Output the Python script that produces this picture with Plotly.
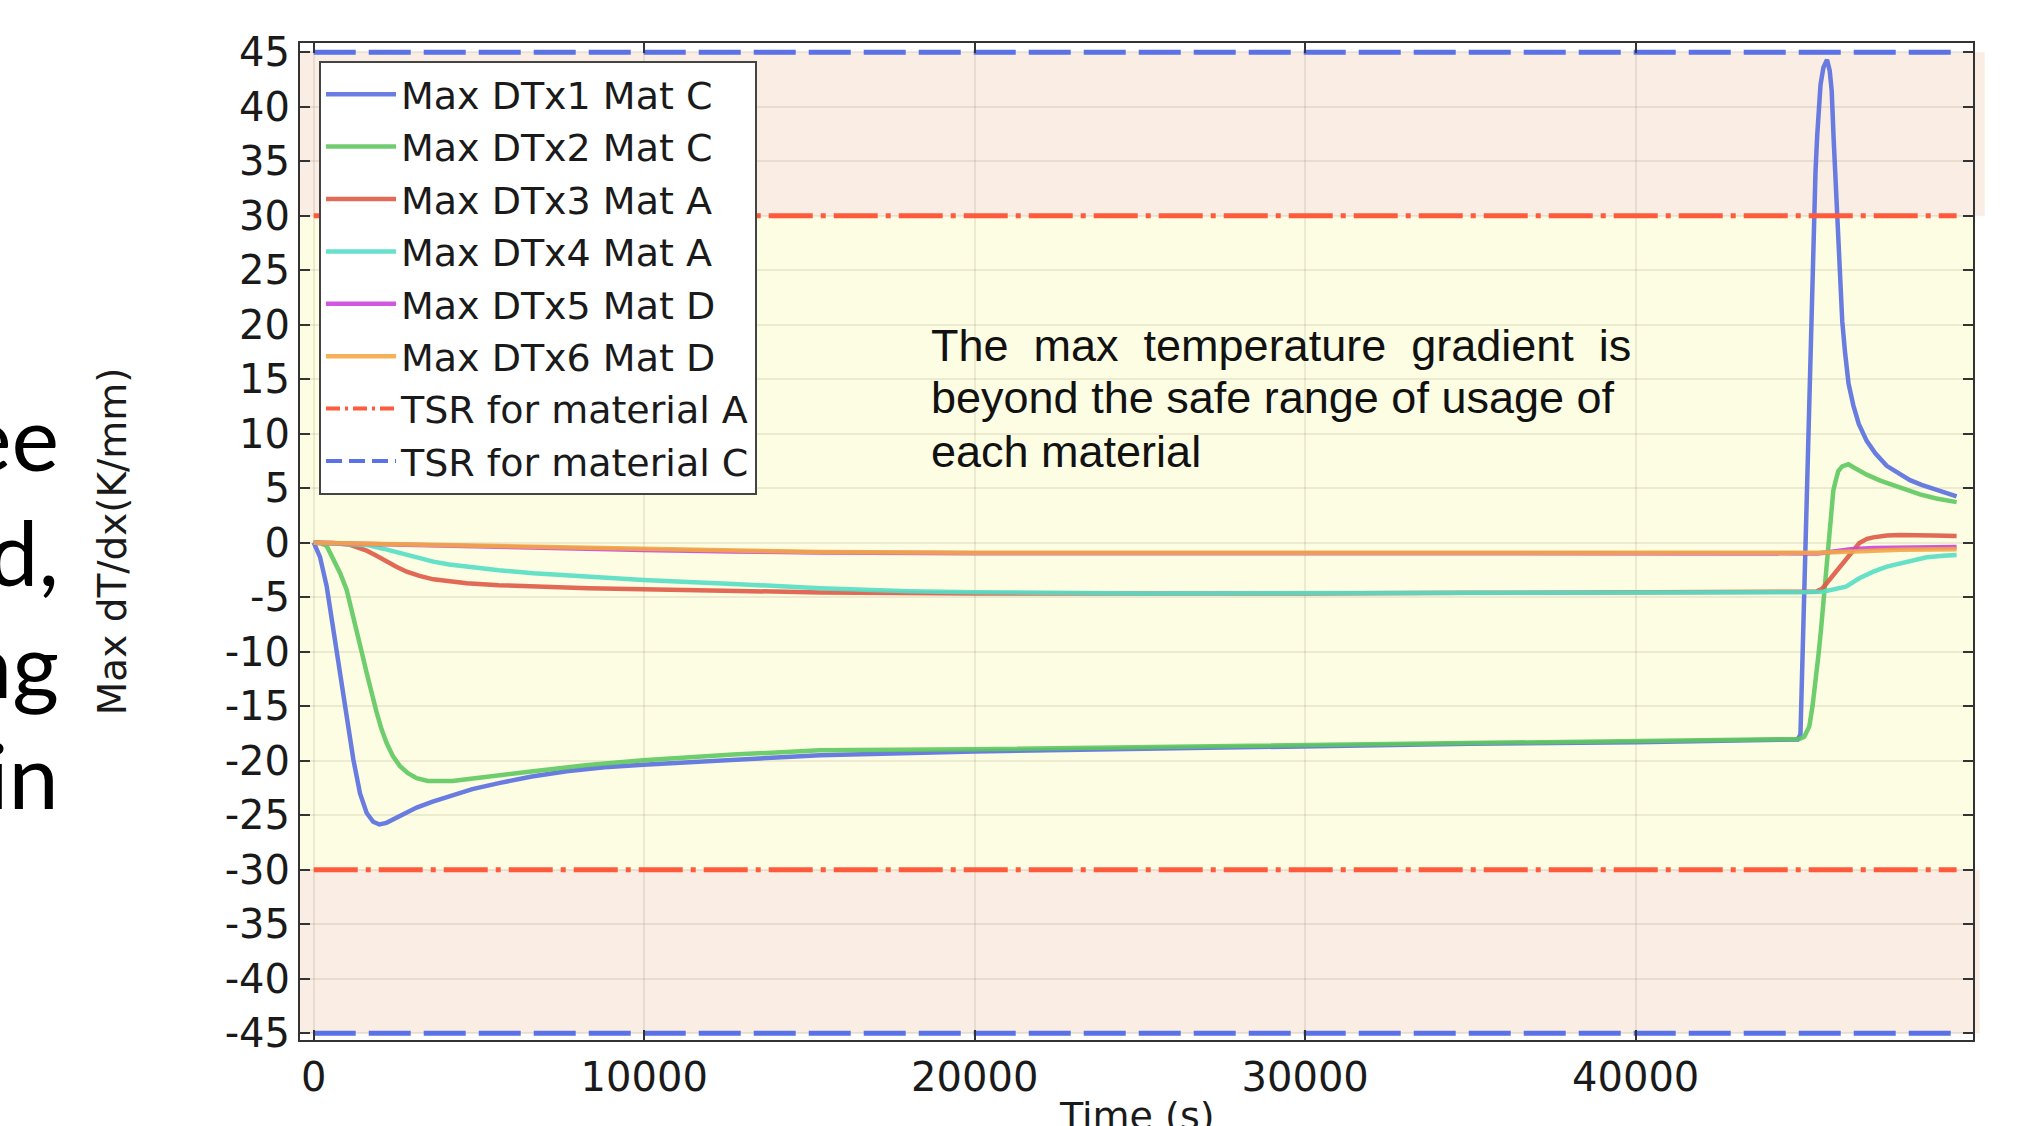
import plotly.graph_objects as go

# ---------------- data ----------------
t_dtx1 = [0, 190, 393, 595, 796, 998, 1200, 1401, 1603, 1800, 1986, 2200, 2409, 2750, 3115, 3600,
          4124, 4800, 5637, 6600, 7655, 8800, 9973, 12696, 15319, 20000, 25000, 30000, 35000, 40000,
          44000, 44900, 44985, 45030, 45085, 45140, 45187, 45238, 45288, 45339, 45390, 45440, 45491,
          45540, 45592, 45680, 45790, 45870, 45930, 45990, 46031, 46101, 46182, 46250, 46333, 46440,
          46585, 46750, 46989, 47250, 47594, 47900, 48299, 48650, 49004, 49350, 49710]
v_dtx1 = [0, -1.3, -4.0, -8.0, -12.3, -16.2, -19.9, -23.0, -24.8, -25.6, -25.85, -25.7, -25.4, -24.85,
          -24.3, -23.75, -23.26, -22.6, -22.03, -21.45, -20.97, -20.6, -20.36, -19.9, -19.5, -19.15,
          -18.9, -18.65, -18.45, -18.3, -18.1, -18.05, -17.6, -12.5, -5.5, 0.5, 5.0, 11.0, 17.5, 24.0,
          30.0, 34.0, 37.3, 40.0, 42.0, 43.6, 44.3, 43.3, 41.5, 37.0, 34.0, 29.95, 24.06, 20.3, 17.5,
          14.6, 12.6, 10.9, 9.34, 8.2, 7.05, 6.5, 5.74, 5.3, 4.92, 4.6, 4.25]

t_dtx2 = [0, 200, 393, 595, 800, 998, 1150, 1301, 1450, 1603, 1750, 1906, 2050, 2209, 2400, 2611,
          2850, 3115, 3450, 3821, 4200, 4629, 5600, 6645, 8300, 9973, 12696, 15319, 20000, 25000,
          30000, 35000, 40000, 44000, 44950, 45100, 45253, 45350, 45455, 45530, 45606, 45706, 45780,
          45858, 45930, 45980, 46060, 46131, 46250, 46434, 46600, 46989, 47400, 47796, 48200, 48602,
          49100, 49710]
v_dtx2 = [0, -0.03, -0.3, -1.58, -2.8, -4.33, -6.1, -8.0, -10.0, -11.96, -13.9, -15.6, -17.1, -18.4,
          -19.6, -20.5, -21.15, -21.6, -21.85, -21.9, -21.85, -21.7, -21.3, -20.97, -20.4, -19.96,
          -19.44, -19.05, -18.95, -18.75, -18.55, -18.4, -18.25, -18.05, -18.0, -17.8, -16.85, -15.0,
          -12.6, -10.3, -8.0, -4.33, -1.6, 1.16, 3.6, 4.8, 5.8, 6.57, 7.0, 7.2, 6.9, 6.24, 5.7, 5.25,
          4.8, 4.43, 4.05, 3.72]

t_dtx3 = [0, 600, 1099, 1603, 1900, 2209, 2500, 2814, 3200, 3620, 4100, 4629, 5600, 6645, 8300, 9973,
          12696, 15319, 20000, 25000, 30000, 35000, 40000, 44000, 45000, 45455, 45650, 45858, 46100,
          46363, 46550, 46767, 47000, 47190, 47600, 47997, 49000, 49710]
v_dtx3 = [0, -0.02, -0.2, -0.73, -1.2, -1.74, -2.2, -2.66, -3.05, -3.36, -3.57, -3.72, -3.9, -4.03,
          -4.17, -4.27, -4.43, -4.56, -4.65, -4.68, -4.65, -4.6, -4.58, -4.55, -4.55, -4.5, -4.2,
          -3.42, -2.5, -1.58, -0.8, -0.03, 0.35, 0.49, 0.65, 0.7, 0.66, 0.61]

t_dtx4 = [0, 800, 1603, 2100, 2611, 3100, 3620, 4100, 4629, 5600, 6645, 8300, 9973, 12696, 15319,
          18000, 20000, 25000, 30000, 35000, 40000, 45000, 45656, 46000, 46363, 46767, 47190, 47600,
          47997, 48400, 48804, 49300, 49710]
v_dtx4 = [0, -0.05, -0.2, -0.55, -0.98, -1.38, -1.74, -2.0, -2.2, -2.52, -2.8, -3.13, -3.42, -3.78,
          -4.18, -4.45, -4.55, -4.65, -4.65, -4.6, -4.58, -4.55, -4.5, -4.3, -4.03, -3.26, -2.66,
          -2.2, -1.9, -1.6, -1.34, -1.2, -1.13]

t_dtx5 = [0, 2000, 4629, 7000, 9973, 12700, 15319, 20000, 30000, 40000, 45500, 46000, 46500, 47200,
          48500, 49710]
v_dtx5 = [0, -0.15, -0.38, -0.52, -0.68, -0.8, -0.9, -0.97, -1.0, -1.0, -0.98, -0.8, -0.6, -0.48,
          -0.42, -0.4]

t_dtx6 = [0, 2000, 4629, 7000, 9973, 12700, 15319, 20000, 30000, 40000, 45500, 46200, 47000, 48000,
          49710]
v_dtx6 = [0, -0.1, -0.3, -0.45, -0.6, -0.73, -0.85, -0.92, -0.95, -0.95, -0.93, -0.85, -0.72, -0.65,
          -0.6]

series_names = ["Max DTx1 Mat C", "Max DTx2 Mat C", "Max DTx3 Mat A",
                "Max DTx4 Mat A", "Max DTx5 Mat D", "Max DTx6 Mat D"]
series_colors = ["#5a6fe0", "#5fc860", "#de5a46", "#55dec6", "#cc44dd", "#f3a845"]

tsr_names = ["TSR for material A", "TSR for material C"]
tsr_values = [30, 45]          # thermal safe range (+/-) for materials A and C
tsr_colors = ["#ff5a3c", "#5a72e6"]

x_ticks = [0, 10000, 20000, 30000, 40000]
y_ticks = list(range(-45, 50, 5))

x_title = "Time (s)"
y_title = "Max dT/dx(K/mm)"
note_lines = ["The\u00a0\u00a0max\u00a0\u00a0temperature\u00a0\u00a0gradient\u00a0\u00a0is",
              "beyond the safe range of usage of",
              "each material"]
slide_fragments = ["ee", "d,", "ng", "in"]

# ---------------- layout geometry ----------------
FIG_W, FIG_H = 2024, 1126
L, R, T, B = 300, 51, 43, 86
PW, PH = FIG_W - L - R, FIG_H - T - B


def px(x):
    return (x - L) / PW


def py(y):
    return 1 - (y - T) / PH


fig = go.Figure()

all_t = [t_dtx1, t_dtx2, t_dtx3, t_dtx4, t_dtx5, t_dtx6]
all_v = [v_dtx1, v_dtx2, v_dtx3, v_dtx4, v_dtx5, v_dtx6]
for name, col, tt, vv in zip(series_names, series_colors, all_t, all_v):
    fig.add_trace(go.Scatter(x=tt, y=vv, mode="lines", name=name, opacity=0.9,
                             line=dict(color=col, width=4.5)))

t0, t1 = t_dtx1[0], t_dtx1[-1]
plot_dashes = ["44px,8px,5px,8px", "42px,13px"]
legend_dashes = ["14px,5px,3px,5px", "16px,7px"]
for i, (name, val, col, dsh) in enumerate(zip(tsr_names, tsr_values, tsr_colors, plot_dashes)):
    fig.add_trace(go.Scatter(x=[t0, t1, None, t0, t1], y=[val, val, None, -val, -val],
                             mode="lines", name=name, legendgroup="tsr%d" % i, showlegend=False,
                             line=dict(color=col, width=5, dash=dsh)))
# legend entries for the TSR lines (short dash pattern so it reads inside the legend)
for i, (name, col, dsh) in enumerate(zip(tsr_names, tsr_colors, legend_dashes)):
    fig.add_trace(go.Scatter(x=[None], y=[None], mode="lines", name=name,
                             legendgroup="tsr%d" % i,
                             line=dict(color=col, width=4, dash=dsh)))

# background bands (safe / unsafe ranges)
a, c = tsr_values
fig.add_shape(type="rect", xref="paper", yref="y", x0=0, x1=1, y0=-a, y1=a,
              fillcolor="#fdfde3", line_width=0, layer="below")
fig.add_shape(type="rect", xref="paper", yref="y", x0=0, x1=1.007, y0=a, y1=c,
              fillcolor="#f9ede4", line_width=0, layer="below")
fig.add_shape(type="rect", xref="paper", yref="y", x0=0, x1=1.004, y0=-c, y1=-a,
              fillcolor="#f9ede4", line_width=0, layer="below")

tick_font = dict(family="DejaVu Sans", size=40, color="#1a1a1a")

fig.update_xaxes(range=[-415, 50206], tickvals=x_ticks, ticktext=[str(v) for v in x_ticks],
                 ticks="inside", ticklen=10, tickwidth=2, tickcolor="#333",
                 showline=True, linecolor="#333", linewidth=2, mirror="ticks",
                 showgrid=True, gridcolor="rgba(120,110,80,0.13)", gridwidth=1.5,
                 zeroline=False, tickfont=tick_font, ticklabelstandoff=1)
fig.update_yaxes(range=[-45.62, 45.84], tickvals=y_ticks, ticktext=[str(v) for v in y_ticks],
                 ticks="inside", ticklen=10, tickwidth=2, tickcolor="#333",
                 showline=True, linecolor="#333", linewidth=2, mirror="ticks",
                 showgrid=True, gridcolor="rgba(120,110,80,0.13)", gridwidth=1.5,
                 zeroline=False, tickfont=tick_font, ticklabelstandoff=0,
                 title=dict(text=y_title, standoff=86,
                            font=dict(family="DejaVu Sans", size=39, color="#1a1a1a")))

annotations = []
# x-axis title sits partly below the bottom edge of the picture, as in the reference
annotations.append(dict(text=x_title, xref="paper", yref="paper", x=0.5, y=py(1092),
                        xanchor="center", yanchor="top", showarrow=False,
                        font=dict(family="DejaVu Sans", size=38, color="#1a1a1a")))
note_baselines = [360, 413, 467]
for line, base in zip(note_lines, note_baselines):
    annotations.append(dict(text=line, xref="paper", yref="paper", x=px(929), y=py(base - 15),
                            xanchor="left", yanchor="middle", showarrow=False,
                            font=dict(family="Liberation Sans", size=45, color="#111")))
frag_baselines = [470, 585, 697, 808]
for frag, base in zip(slide_fragments, frag_baselines):
    annotations.append(dict(text=frag, xref="paper", yref="paper", x=px(61), y=py(base - 34),
                            xanchor="right", yanchor="middle", showarrow=False,
                            font=dict(family="Lato", size=90, color="#000")))

fig.update_layout(
    width=FIG_W, height=FIG_H,
    margin=dict(l=L, r=R, t=T, b=B, autoexpand=False),
    paper_bgcolor="white", plot_bgcolor="white",
    showlegend=True,
    legend=dict(x=px(319), y=py(61), xanchor="left", yanchor="top",
                bgcolor="white", bordercolor="#444", borderwidth=2,
                font=dict(family="DejaVu Sans", size=38, color="#1a1a1a"),
                itemwidth=70, tracegroupgap=0),
    annotations=annotations,
)

fig.write_html("out.html", config={"displayModeBar": False},
               post_script="document.body.style.margin='0';document.body.style.overflow='hidden';")
